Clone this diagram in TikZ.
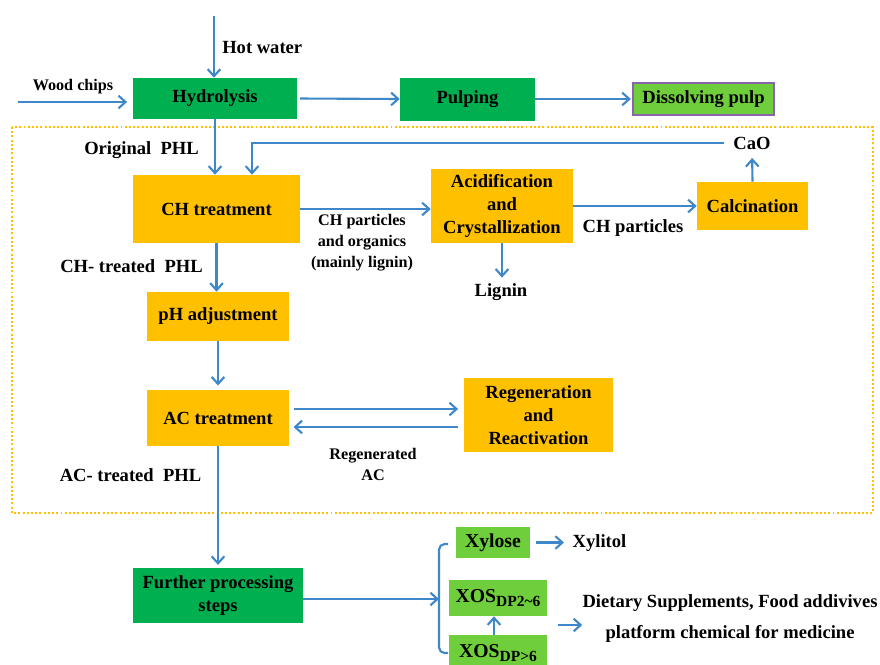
\documentclass[tikz,border=0pt]{standalone}
\usepackage{fontspec}
\setmainfont{Liberation Serif}
\usetikzlibrary{arrows.meta, positioning, calc}
\definecolor{boxgreen}{RGB}{0,176,80}
\definecolor{prodgreen}{RGB}{110,206,60}
\definecolor{boxorange}{RGB}{255,192,0}
\definecolor{flowblue}{RGB}{62,135,200}
\definecolor{edgepurple}{RGB}{140,100,170}
\newcommand{\unitpx}{0.025cm}
\newcommand{\bigfont}{\fontsize{13.2}{16.6}\selectfont\bfseries}
\newcommand{\smallfont}{\fontsize{11.5}{14.9}\selectfont\bfseries}
\newcommand{\subdp}[1]{\raisebox{-0.35ex}{\fontsize{11}{11}\selectfont #1}}

\begin{document}
\begin{tikzpicture}[x=\unitpx, y=-\unitpx,
    box/.style 2 args={minimum width=#1*\unitpx, minimum height=#2*\unitpx},
    stage/.style={fill=boxgreen, font=\bigfont, align=center, inner sep=0pt},
    proc/.style={fill=boxorange, font=\bigfont, align=center, inner sep=0pt},
    prod/.style={fill=prodgreen, font=\fontsize{14}{16}\selectfont\bfseries, inner sep=0pt},
    lbl/.style={font=\bigfont, align=center, inner sep=0pt},
    slbl/.style={font=\smallfont, align=center, inner sep=0pt},
    flow/.style={-{Straight Barb[length=5pt,width=9pt]}, draw=flowblue, line width=1.5pt},
    link/.style={draw=flowblue, line width=1.5pt}]
    \useasboundingbox (0,0) rectangle (880,664);
    % region of the PHL treatment
    \draw[boxorange, line width=1.5pt, dash pattern=on 1.4pt off 1.6pt] (12,127) rectangle (873,513);

    \node[stage, box={164}{41}] (hydro) at (215,98.5) {Hydrolysis};
    \node[stage, box={135}{43}] (pulp) at (467.5,99) {Pulping};
    \node[fill=prodgreen, draw=edgepurple, line width=1.1pt, font=\bigfont, inner sep=0pt, box={141}{32}] (dissolve) at (703.5,99) {Dissolving pulp};
    \node[proc, box={167}{68}] (ch) at (216.5,209) {CH treatment};
    \node[proc, box={142}{74}] (acid) at (502,206) {Acidification\\and\\Crystallization};
    \node[proc, box={111}{48}] (calc) at (752.5,206) {Calcination};
    \node[proc, box={142}{49}] (ph) at (218,316.5) {pH adjustment};
    \node[proc, box={142}{56}] (ac) at (218,418) {AC treatment};
    \node[proc, box={149}{74}] (regen) at (538.5,415) {Regeneration\\and\\Reactivation};
    \node[stage, box={170}{55}, font=\fontsize{13.2}{17}\selectfont\bfseries] (further) at (218,595.5) {Further processing\\steps};
    \node[prod, box={74}{31}] (xylose) at (493,542.5) {Xylose};
    \node[prod, box={98}{36}] (xos26) at (498,598) {XOS\subdp{DP2\textasciitilde6}};
    \node[prod, box={98}{36}] (xos6) at (498,653) {XOS\subdp{DP>6}};

    \node[lbl, anchor=west] (hotwater) at (222,48) {Hot water};
    \node[slbl] (woodchips) at (73,87) {Wood chips};
    \node[lbl] (origphl) at (141.5,150) {Original\ \ PHL};
    \node[lbl] (chphl) at (131.5,266) {CH- treated\ \ PHL};
    \node[lbl] (acphl) at (130.5,475) {AC- treated\ \ PHL};
    \node[slbl] (chorg) at (362,243) {CH particles\\and organics\\(mainly lignin)};
    \node[lbl] (chpart) at (633,228) {CH particles};
    \node[lbl] (lignin) at (501,292) {Lignin};
    \node[lbl] (cao) at (752,143) {CaO};
    \node[slbl, font=\fontsize{11.5}{15}\selectfont\bfseries] (regenac) at (373,464.5) {Regenerated\\AC};
    \node[lbl] (xylitol) at (599.5,543) {Xylitol};
    \node[lbl, font=\fontsize{13.2}{22}\selectfont\bfseries] (diet) at (730,618.5) {Dietary Supplements, Food addivives\\platform chemical for medicine};

    \coordinate (hwin) at (214,16);
    \coordinate (woodin) at (18,102);
    \coordinate (brtop) at (448,544);
    \coordinate (brbot) at (448,653);
    \coordinate (brmid) at (439,599);
    \coordinate (dietin) at (558,625);

    \draw[flow] (hwin) -- (hwin |- hydro.north);
    \draw[flow, shorten >=4pt] (woodin) -- (woodin -| hydro.west);
    \draw[flow, shorten <=2pt] (hydro.east) -- (pulp.west);
    \draw[flow, shorten >=1pt] (pulp.east) -- (dissolve.west);
    \draw[flow] (hydro.south) -- (hydro.south |- ch.north);
    \draw[flow] ([xshift=-9*\unitpx]cao.west) -| ([xshift=35.5*\unitpx]ch.north);
    \draw[flow, shorten >=6pt] (calc.north) -- (cao.south);
    \draw[flow] (ch.east) -- (ch.east -| acid.west);
    \draw[flow] (acid.east) -- (calc.west);
    \draw[flow, shorten >=4pt] (acid.south) -- (acid.south |- lignin.north);
    \draw[flow] (ch.south) -- (ch.south |- ph.north);
    \draw[flow, shorten >=3pt] (ph.south) -- (ac.north);
    \draw[flow, shorten <=3pt, shorten >=4pt] ([yshift=9*\unitpx]ac.east) -- ([yshift=9*\unitpx]ac.east -| regen.west);
    \draw[flow, shorten <=4pt, shorten >=3pt] ([yshift=-9*\unitpx]ac.east -| regen.west) -- ([yshift=-9*\unitpx]ac.east);
    \draw[flow, shorten >=2pt] (ac.south) -- (further.north);
    \draw[flow] (further.east |- brmid) -- (brmid);
    \draw[link, rounded corners=4pt] (brtop) -- ++(-9,0) |- (brbot);
    \draw[flow, shorten <=4pt, shorten >=6pt] (xylose.east) -- (xylose.east -| xylitol.west);
    \draw[flow] (xos6.north -| 494,0) -- (xos26.south -| 494,0);
    \draw[flow] (dietin) -- (dietin -| diet.west);
\end{tikzpicture}
\end{document}
